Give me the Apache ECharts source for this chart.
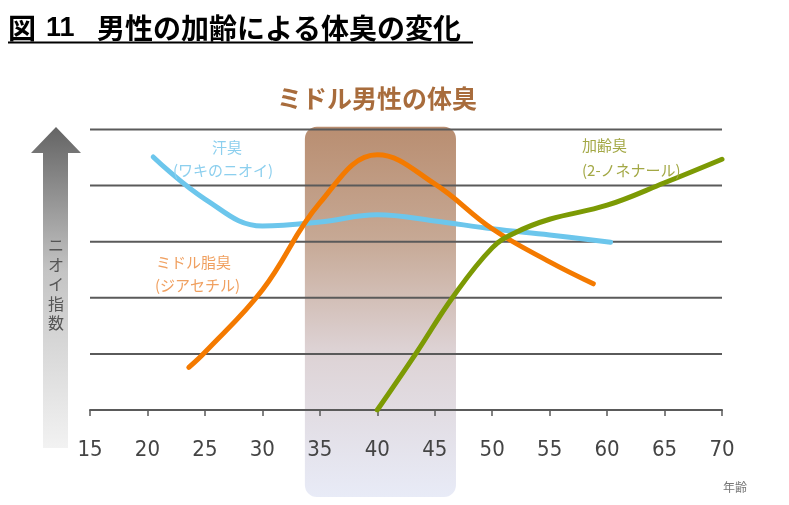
<!DOCTYPE html>
<html>
<head>
<meta charset="utf-8">
<script src="https://cdn.jsdelivr.net/npm/echarts@6/dist/echarts.min.js"></script>
<style>
html,body{margin:0;padding:0;background:#fff;}
#c{width:789px;height:505px;}
</style>
</head>
<body>
<div id="c"></div>
<script>
// ---- data ----
const xTicks = [15, 20, 25, 30, 35, 40, 45, 50, 55, 60, 65, 70];
const gridLevels = [1, 2, 3, 4, 5];
const sweatAges   = [20.5, 25, 30, 35, 40, 45, 50, 55, 60.3];
const sweatValues = [4.51, 3.76, 3.28, 3.35, 3.48, 3.37, 3.23, 3.12, 2.99];
const middleAges   = [23.6, 25, 30, 35, 40, 45, 50, 55, 58.8];
const middleValues = [0.76, 1.03, 2.14, 3.69, 4.55, 4.03, 3.23, 2.64, 2.25];
const agingAges   = [40, 43.4, 46.6, 50, 52, 55, 60, 65, 70];
const agingValues = [0, 1.02, 2.02, 2.89, 3.16, 3.40, 3.65, 4.05, 4.47];
const shadeAges = [33.7, 46.85];
const shadeLevels = [5.05, -1.55];
const yTitleChars = ['ニ', 'オ', 'イ', '指', '数'];

const pairs = (xs, ys) => xs.map((x, i) => [x, ys[i]]);

const chart = echarts.init(document.getElementById('c'));
const jp = "'Noto Sans CJK JP', sans-serif";
const gridColor = '#5a5a5a';

function lineSeries(name, xs, ys, color) {
  return {
    name, type: 'line', data: pairs(xs, ys), smooth: 0.4, symbol: 'none',
    lineStyle: { color, width: 5, cap: 'round', join: 'round' }, z: 60
  };
}

const shadeSeries = {
  type: 'custom', z: 1, clip: false, silent: true,
  data: [[shadeAges[0], shadeAges[1], shadeLevels[0], shadeLevels[1]]],
  renderItem: function (params, api) {
    const p1 = api.coord([api.value(0), api.value(2)]);
    const p2 = api.coord([api.value(1), api.value(3)]);
    return {
      type: 'rect',
      shape: { x: p1[0], y: p1[1], width: p2[0] - p1[0], height: p2[1] - p1[1], r: 12 },
      style: {
        fill: new echarts.graphic.LinearGradient(0, 0, 0, 1, [
          { offset: 0, color: '#b98e71' },
          { offset: 0.3, color: '#c6a894' },
          { offset: 0.6, color: '#ddd2d4' },
          { offset: 1, color: '#e8ebf7' }
        ])
      }
    };
  }
};

// horizontal guide lines, one item per level, drawn above the band
const guideSeries = {
  type: 'custom', z: 50, clip: false, silent: true,
  data: gridLevels.map(v => [15, 70, v]),
  renderItem: function (params, api) {
    const a = api.coord([api.value(0), api.value(2)]);
    const b = api.coord([api.value(1), api.value(2)]);
    return {
      type: 'line',
      shape: { x1: a[0], y1: a[1], x2: b[0], y2: b[1] },
      style: { stroke: gridColor, lineWidth: 2 }
    };
  }
};

chart.setOption({
  animation: false,
  backgroundColor: '#fff',
  grid: { left: 90, right: 67, top: 129.5, bottom: 95 },
  xAxis: {
    type: 'value', min: 15, max: 70, interval: 5, z: 55,
    axisLine: { show: true, lineStyle: { color: gridColor, width: 2 } },
    axisTick: { show: true, length: 6, lineStyle: { color: gridColor, width: 1.5 } },
    axisLabel: { margin: 29, color: '#444', fontSize: 22, fontFamily: "'Liberation Sans Narrow', 'DejaVu Sans Condensed', sans-serif",
      customValues: xTicks },
    splitLine: { show: false }
  },
  yAxis: {
    type: 'value', min: 0, max: 5, interval: 1,
    axisLine: { show: false }, axisTick: { show: false }, axisLabel: { show: false },
    splitLine: { show: false }
  },
  series: [
    shadeSeries,
    guideSeries,
    lineSeries('汗臭', sweatAges, sweatValues, '#6cc6ec'),
    lineSeries('ミドル脂臭', middleAges, middleValues, '#f47a00'),
    lineSeries('加齢臭', agingAges, agingValues, '#7c9a04')
  ]
});

function txt(text, x, y, size, color, opts) {
  return Object.assign({
    type: 'text', x, y, z: 70,
    style: Object.assign({ text, fill: color, font: size + 'px ' + jp, textAlign: 'center', textVerticalAlign: 'middle' }, (opts && opts.style) || {})
  }, (opts && opts.el) || {});
}

const graphics = [
  { type: 'polygon', z: 1, silent: true,
    shape: { points: [[56, 127], [81, 153], [68, 153], [68, 448], [43, 448], [43, 153], [31, 153]] },
    style: { fill: new echarts.graphic.LinearGradient(0, 0, 0, 1, [
      { offset: 0, color: '#646464' },
      { offset: 0.45, color: '#c4c4c4' },
      { offset: 1, color: '#f2f2f2' }
    ]) } },
  // top title
  { type: 'text', x: 8, y: 28, style: { text: '図', fill: '#000', font: 'bold 28px ' + jp, textAlign: 'left', textVerticalAlign: 'middle' } },
  { type: 'text', x: 46, y: 29, style: { text: '11', fill: '#000', font: 'bold 27px "Liberation Sans", sans-serif', textAlign: 'left', textVerticalAlign: 'middle' } },
  { type: 'text', x: 97, y: 28, style: { text: '男性の加齢による体臭の変化', fill: '#000', font: 'bold 28px ' + jp, textAlign: 'left', textVerticalAlign: 'middle' } },
  { type: 'rect', shape: { x: 8, y: 41.5, width: 465, height: 2 }, style: { fill: '#000' } },
  // subtitle
  txt('ミドル男性の体臭', 377, 98, 25, '#a86c3c', { style: { font: 'bold 25px ' + jp } }),
  // annotations
  txt('汗臭', 227, 147, 15, '#8ccfee'),
  txt('(ワキのニオイ)', 223, 170, 15, '#8ccfee'),
  txt('ミドル脂臭', 156, 262, 15, '#f0a060', { style: { textAlign: 'left' } }),
  txt('(ジアセチル)', 155, 285, 15, '#f0a060', { style: { textAlign: 'left' } }),
  txt('加齢臭', 582, 145, 15, '#a3a845', { style: { textAlign: 'left' } }),
  txt('(2-ノネナール)', 582, 170, 15, '#a3a845', { style: { textAlign: 'left' } }),
  txt('年齢', 735, 487, 12, '#777')
];
yTitleChars.forEach((ch, i) => graphics.push(txt(ch, 56, 245 + i * 19.5, 16, '#555')));

chart.setOption({ graphic: graphics });
</script>
</body>
</html>
